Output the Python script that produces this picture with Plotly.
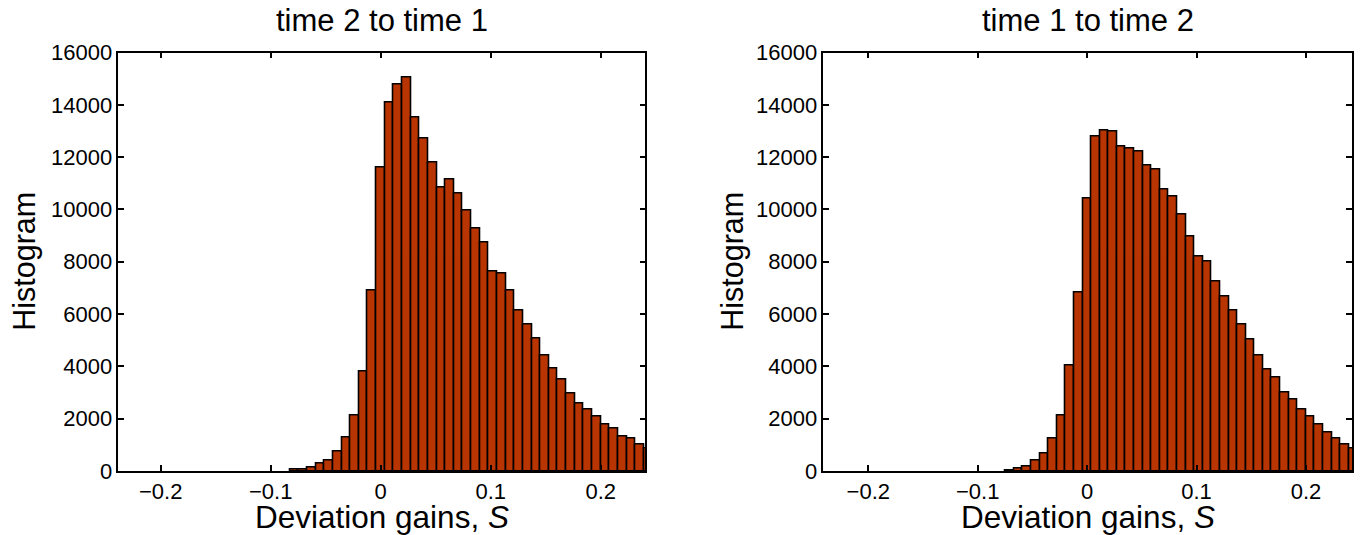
import numpy as np
import plotly.graph_objects as go

# ---- data ----
bin_width = 0.00785
left_first_bin = -10   # bin index of first bar (center = index * bin_width)
right_first_bin = -9

left_counts = [40, 50, 120, 280, 410, 730, 1300, 2140, 3800, 6890, 11600, 14090,
               14770, 15060, 13530, 12730, 11810, 10850, 11130, 10620, 9950, 9270,
               8750, 7630, 7540, 6900, 6120, 5610, 5060, 4400, 3930, 3480, 2970,
               2590, 2360, 2080, 1790, 1630, 1310, 1250, 1000, 870]
right_counts = [25, 90, 180, 410, 665, 1240, 2130, 4050, 6815, 10420, 12800, 13030,
                12970, 12420, 12340, 12200, 11670, 11530, 10780, 10480, 9800, 8950,
                8220, 8000, 7260, 6660, 6130, 5600, 5010, 4410, 3890, 3580, 2990,
                2750, 2370, 2080, 1780, 1480, 1250, 1020, 870]

titles = ["time 2 to time 1", "time 1 to time 2"]
x_ticks = [-0.2, -0.1, 0, 0.1, 0.2]
x_ticklabels = ["\u22120.2", "\u22120.1", "0", "0.1", "0.2"]
y_ticks = [0, 2000, 4000, 6000, 8000, 10000, 12000, 14000, 16000]
y_ticklabels = ["0", "2000", "4000", "6000", "8000", "10000", "12000", "14000", "16000"]
left_xrange = [-0.2385, 0.2405]
right_xrange = [-0.2411, 0.2421]
y_range = [0, 16000]

left_centers = (np.arange(len(left_counts)) + left_first_bin) * bin_width
right_centers = (np.arange(len(right_counts)) + right_first_bin) * bin_width

W, H = 1366, 535
BAR_COLOR = "#B83400"
FONT = "Liberation Sans, Arial, Helvetica, sans-serif"

fig = go.Figure()
fig.add_trace(go.Bar(x=left_centers, y=left_counts, width=bin_width,
                     marker=dict(color=BAR_COLOR, line=dict(color="black", width=1.6)),
                     xaxis="x", yaxis="y", showlegend=False))
fig.add_trace(go.Bar(x=right_centers, y=right_counts, width=bin_width,
                     marker=dict(color=BAR_COLOR, line=dict(color="black", width=1.6)),
                     xaxis="x2", yaxis="y2", showlegend=False))

left_dom = [118.3 / W, 645.3 / W]
right_dom = [823.3 / W, 1352.0 / W]
y_dom = [(H - 471.0) / H, (H - 52.5) / H]

def xaxis(dom, rng, anchor):
    return dict(domain=dom, range=rng, anchor=anchor, tickmode="array",
                tickvals=x_ticks, ticktext=x_ticklabels, ticks="inside", ticklen=6,
                tickwidth=1.5, tickcolor="black", showline=True, linecolor="black",
                linewidth=1.5, mirror="ticks", showgrid=False, zeroline=False,
                automargin=False, fixedrange=True,
                tickfont=dict(size=22, color="black", family=FONT))

def yaxis(anchor):
    return dict(domain=y_dom, range=y_range, anchor=anchor, tickmode="array",
                tickvals=y_ticks, ticktext=y_ticklabels, ticks="inside", ticklen=6,
                tickwidth=1.5, tickcolor="black", showline=True, linecolor="black",
                linewidth=1.5, mirror="ticks", showgrid=False, zeroline=False,
                automargin=False, fixedrange=True,
                tickfont=dict(size=22, color="black", family=FONT))

annotations = []
for dom, title in [(left_dom, titles[0]), (right_dom, titles[1])]:
    cx = (dom[0] + dom[1]) / 2
    annotations.append(dict(text=title, x=cx, y=(H - 20) / H, xref="paper", yref="paper",
                            showarrow=False, xanchor="center", yanchor="middle",
                            font=dict(size=31, color="black", family=FONT)))
    annotations.append(dict(text="Deviation gains, <i>S</i>", x=cx, y=(H - 517) / H,
                            xref="paper", yref="paper", showarrow=False,
                            xanchor="center", yanchor="middle",
                            font=dict(size=31.5, color="black", family=FONT)))
for xpix in [25, 733]:
    annotations.append(dict(text="Histogram", x=xpix / W, y=(y_dom[0] + y_dom[1]) / 2,
                            xref="paper", yref="paper", showarrow=False, textangle=-90,
                            xanchor="center", yanchor="middle",
                            font=dict(size=30.5, color="black", family=FONT)))

fig.update_layout(
    width=W, height=H, margin=dict(l=0, r=0, t=0, b=0, pad=0, autoexpand=False),
    paper_bgcolor="white", plot_bgcolor="white", bargap=0,
    xaxis=xaxis(left_dom, left_xrange, "y"),
    yaxis=yaxis("x"),
    xaxis2=xaxis(right_dom, right_xrange, "y2"),
    yaxis2=yaxis("x2"),
    annotations=annotations,
    font=dict(family=FONT, color="black"),
)

post = ("document.documentElement.style.margin='0';"
        "document.documentElement.style.padding='0';"
        "document.documentElement.style.overflow='hidden';"
        "document.body.style.margin='0';"
        "document.body.style.padding='0';"
        "document.body.style.overflow='hidden';")
fig.write_html("out.html", post_script=post, config={"displayModeBar": False})
